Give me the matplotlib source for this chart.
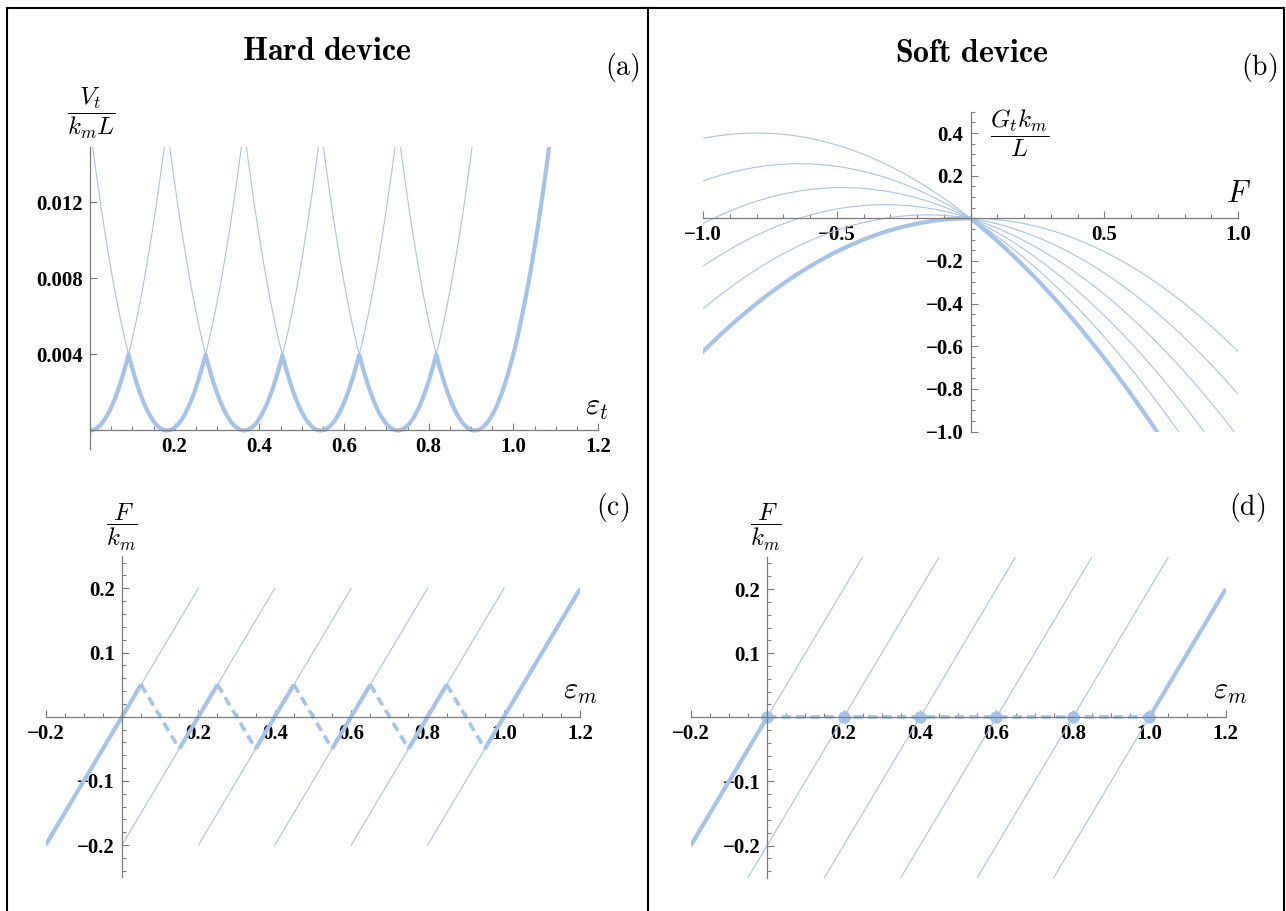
import numpy as np
import matplotlib
matplotlib.use('Agg')
import matplotlib.pyplot as plt
from matplotlib.ticker import MultipleLocator
from matplotlib.lines import Line2D

plt.rcParams['mathtext.fontset'] = 'cm'
plt.rcParams['font.family'] = ['Liberation Serif', 'DejaVu Serif']

W, H = 1286, 911
BLUE = '#a5c3e8'
AXC = '#7a7a7a'

# ---- datos ----
# (a) potencial en dispositivo duro: parabolas V = k*(eps - c)^2
a_centers = [0.0, 0.182, 0.364, 0.545, 0.727, 0.909]
a_curv = 0.484
a_xticks = [0.2, 0.4, 0.6, 0.8, 1.0, 1.2]
a_yticks = [0.004, 0.008, 0.012]

# (b) energia de Gibbs en dispositivo blando: G = -a F^2 - b F
b_slopes = [0.0, 0.2, 0.4, 0.6, 0.8, 1.0]
b_curv = 0.625
b_xticks = [-1.0, -0.5, 0.5, 1.0]
b_yticks = [-1.0, -0.8, -0.6, -0.4, -0.2, 0.2, 0.4]

# (c), (d) ramas F = eps - c
m_offsets = [0.0, 0.2, 0.4, 0.6, 0.8, 1.0]
c_thin_F = [-0.2, 0.2]
d_thin_F = [-0.25, 0.25]
cd_xticks = [-0.2, 0.2, 0.4, 0.6, 0.8, 1.0, 1.2]
cd_yticks = [-0.2, -0.1, 0.1, 0.2]

# camino en dispositivo duro (c): vertices del diente de sierra
hard_eps = [-0.2, 0.05, 0.15, 0.25, 0.35, 0.45, 0.55, 0.65, 0.75, 0.85, 0.95, 1.2]
hard_F = [-0.2, 0.05, -0.05, 0.05, -0.05, 0.05, -0.05, 0.05, -0.05, 0.05, -0.05, 0.2]

# camino en dispositivo blando (d)
soft_left_eps = [-0.2, 0.0]
soft_left_F = [-0.2, 0.0]
soft_right_eps = [1.0, 1.2]
soft_right_F = [0.0, 0.2]
soft_plateau_F = 0.0


def px_axes(fig, x0, x1, ytop, ybot):
    return fig.add_axes([x0 / W, 1 - ybot / H, (x1 - x0) / W, (ybot - ytop) / H])


def setup(ax, xlim, ylim, xt, yt, xminor, yminor, xfmt, yfmt):
    ax.set_xlim(xlim)
    ax.set_ylim(ylim)
    ax.patch.set_alpha(0)
    for s in ['top', 'right']:
        ax.spines[s].set_visible(False)
    for s in ['left', 'bottom']:
        ax.spines[s].set_position(('data', 0))
        ax.spines[s].set_color(AXC)
        ax.spines[s].set_linewidth(0.9)
    ax.set_xticks(xt, [xfmt.format(v).replace('-', '\u2212') for v in xt])
    ax.set_yticks(yt, [yfmt.format(v).replace('-', '\u2212') for v in yt])
    if xminor:
        ax.xaxis.set_minor_locator(MultipleLocator(xminor))
    if yminor:
        ax.yaxis.set_minor_locator(MultipleLocator(yminor))
    ax.tick_params(which='both', direction='in', color=AXC, width=0.8)
    ax.tick_params(which='major', length=5, labelsize=15, pad=5)
    ax.tick_params(which='minor', length=3)
    for lab in ax.get_xticklabels() + ax.get_yticklabels():
        lab.set_fontweight('bold')


def ftext(x, y, s, **kw):
    fig.text(x / W, 1 - y / H, s, ha='center', va='center', **kw)


fig = plt.figure(figsize=(W / 100, H / 100), dpi=100)

# ---- (a) ----
ax1 = px_axes(fig, 90, 598, 147.4, 449.5)
setup(ax1, (0, 1.2), (-0.001, 0.0149), a_xticks, a_yticks, 0.05, None, '{:.1f}', '{:.3f}')
eps = np.linspace(0, 1.2, 1200)
Vs = np.array([a_curv * (eps - c) ** 2 for c in a_centers])
for V in Vs:
    ax1.plot(eps, V, color=BLUE, lw=0.8)
env = Vs.min(axis=0)
ax1.plot(eps, env, color=BLUE, lw=3.0, solid_capstyle='butt')

# ---- (b) ----
ax2 = px_axes(fig, 703, 1238, 111.7, 431.5)
setup(ax2, (-1, 1), (-1, 0.5), b_xticks, b_yticks, 0.1, 0.05, '{:.1f}', '{:.1f}')
F = np.linspace(-1, 1, 1000)
Gs = np.array([-b_curv * F ** 2 - b * F for b in b_slopes])
for G in Gs:
    ax2.plot(F, G, color=BLUE, lw=0.8)
ax2.plot(F, Gs.min(axis=0), color=BLUE, lw=3.0)

# ---- (c) ----
ax3 = px_axes(fig, 45.6, 580.4, 556.2, 877.2)
setup(ax3, (-0.2, 1.2), (-0.25, 0.25), cd_xticks, cd_yticks, 0.05, 0.02, '{:.1f}', '{:.1f}')
for c in m_offsets:
    Fl = np.array(c_thin_F)
    ax3.plot(c + Fl, Fl, color=BLUE, lw=0.8)
for i in range(len(hard_eps) - 1):
    seg_x = hard_eps[i:i + 2]
    seg_y = hard_F[i:i + 2]
    if i % 2 == 0:
        ax3.plot(seg_x, seg_y, color=BLUE, lw=3.0, solid_capstyle='butt')
    else:
        ax3.plot(seg_x, seg_y, color=BLUE, lw=2.6, dashes=(2.6, 1.5))

# ---- (d) ----
ax4 = px_axes(fig, 690.7, 1225.7, 557.0, 877.6)
setup(ax4, (-0.2, 1.2), (-0.25, 0.25), cd_xticks, cd_yticks, 0.05, 0.02, '{:.1f}', '{:.1f}')
for c in m_offsets:
    Fl = np.array(d_thin_F)
    ax4.plot(c + Fl, Fl, color=BLUE, lw=0.8)
ax4.plot(soft_left_eps, soft_left_F, color=BLUE, lw=3.0, solid_capstyle='butt')
ax4.plot(soft_right_eps, soft_right_F, color=BLUE, lw=3.0, solid_capstyle='butt')
ax4.plot([m_offsets[0], m_offsets[-1]], [soft_plateau_F] * 2, color=BLUE, lw=2.6,
         dashes=(2.6, 1.4))
ax4.plot(m_offsets, [soft_plateau_F] * len(m_offsets), 'o', color=BLUE, ms=9, mec='none',
         clip_on=False)

# ---- textos ----
ftext(327, 53, r'$\mathbf{Hard\ device}$', fontsize=23)
ftext(972, 55, r'$\mathbf{Soft\ device}$', fontsize=23)
ftext(622, 67, r'$\mathrm{(a)}$', fontsize=20)
ftext(1259, 67, r'$\mathrm{(b)}$', fontsize=20)
ftext(613, 508, r'$\mathrm{(c)}$', fontsize=20)
ftext(1247, 508, r'$\mathrm{(d)}$', fontsize=20)

ftext(91, 113, r'$\dfrac{V_t}{k_m L}$', fontsize=18)
ftext(1020, 133, r'$\dfrac{G_t k_m}{L}$', fontsize=18)
ftext(122, 527, r'$\dfrac{F}{k_m}$', fontsize=18)
ftext(766, 527, r'$\dfrac{F}{k_m}$', fontsize=18)

ftext(597, 408, r'$\varepsilon_t$', fontsize=22)
ftext(1238, 195, r'$F$', fontsize=22)
ftext(580, 692, r'$\varepsilon_m$', fontsize=22)
ftext(1230, 692, r'$\varepsilon_m$', fontsize=22)

# ---- marco ----
for xs, ys in [([7, 1284], [8, 8]), ([7, 7], [8, 915]), ([1284, 1284], [8, 915]),
               ([648, 648], [8, 915])]:
    fig.add_artist(Line2D([x / W for x in xs], [1 - y / H for y in ys],
                          color='black', lw=1.5, transform=fig.transFigure))

fig.savefig('out.png', dpi=100)
